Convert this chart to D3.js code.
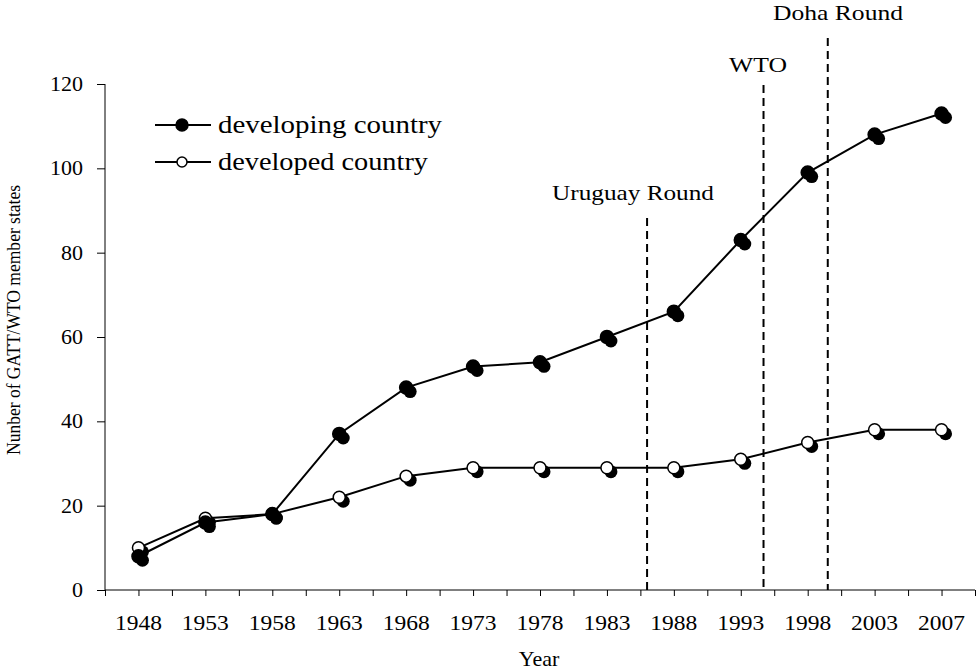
<!DOCTYPE html>
<html>
<head>
<meta charset="utf-8">
<script src="https://cdn.jsdelivr.net/npm/d3@7/dist/d3.min.js"></script>
<style>
  html, body { margin: 0; padding: 0; background: #fff; }
  text { font-family: "Liberation Serif", "Times New Roman", serif; fill: #000; }
</style>
</head>
<body>
<svg id="chart" width="977" height="670"></svg>
<script>
// ---- data ----
const years = ["1948","1953","1958","1963","1968","1973","1978","1983","1988","1993","1998","2003","2007"];
const developing = [8, 16, 18, 37, 48, 53, 54, 60, 66, 83, 99, 108, 113];
const developed  = [10, 17, 18, 22, 27, 29, 29, 29, 29, 31, 35, 38, 38];
const yTicks = [0, 20, 40, 60, 80, 100, 120];
const eventNames = ["Uruguay Round", "WTO", "Doha Round"];
const eventYears = [1986, 1994.7, 1999.5];

(function () {
// ---- layout ----
const svg = d3.select("#chart");
const mLeft = 105, mRight = 975, mTop = 84, mBottom = 590;

const xi = d3.scaleLinear().domain([0, years.length]).range([mLeft, mRight]);
const xc = i => xi(i + 0.5);
const y = d3.scaleLinear().domain([0, 120]).range([mBottom, mTop]);

// fractional category position for an event year
const yearNums = years.map(Number);
function eventX(yr) {
  for (let i = 0; i < yearNums.length - 1; i++) {
    if (yr >= yearNums[i] && yr <= yearNums[i + 1]) {
      const f = (yr - yearNums[i]) / (yearNums[i + 1] - yearNums[i]);
      return xi(i + 0.5 + f);
    }
  }
  return xi(yearNums.length - 0.5);
}

// ---- axes ----
const yAxis = d3.axisLeft(y).tickValues(yTicks).tickSize(8).tickFormat("");
const gy = svg.append("g").attr("transform", `translate(${mLeft},0)`).call(yAxis);
gy.select(".domain").attr("stroke", "#000").attr("d", `M0,${mTop}V${mBottom}`);
gy.selectAll(".tick line").attr("stroke", "#000");

const xAxis = d3.axisBottom(xi).tickValues(d3.range(0, years.length + 0.01, 0.5)).tickSize(6).tickFormat("");
const gx = svg.append("g").attr("transform", `translate(0,${mBottom})`).call(xAxis);
gx.select(".domain").attr("stroke", "#000").attr("d", `M${mLeft},0H${mRight}`);
gx.selectAll(".tick line").attr("stroke", "#000");

// y tick labels
svg.append("g").selectAll("text").data(yTicks).join("text")
  .attr("x", 83).attr("y", d => y(d) + 7)
  .attr("text-anchor", "end").attr("font-size", 22)
  .text(d => d);

// x tick labels
svg.append("g").selectAll("text").data(years).join("text")
  .attr("x", (d, i) => xc(i) - 23.5).attr("y", 630)
  .attr("font-size", 21)
  .attr("textLength", 47).attr("lengthAdjust", "spacingAndGlyphs")
  .text(d => d);

// axis titles
svg.append("text").attr("x", 539).attr("y", 666).attr("text-anchor", "middle")
  .attr("font-size", 22).text("Year");

svg.append("text")
  .attr("transform", `translate(20,${(185 + 455) / 2}) rotate(-90)`)
  .attr("x", -135).attr("y", 0)
  .attr("font-size", 19)
  .attr("textLength", 270).attr("lengthAdjust", "spacingAndGlyphs")
  .text("Nunber of GATT/WTO member states");

// ---- event lines ----
const eventTops = [218, 85, 38];
const labelPos = [[633, 200, 162], [758, 72, 58], [838, 20, 130]];
eventYears.forEach((yr, k) => {
  const ex = eventX(yr);
  svg.append("line").attr("x1", ex).attr("x2", ex)
    .attr("y1", eventTops[k]).attr("y2", mBottom)
    .attr("stroke", "#000").attr("stroke-width", 2).attr("stroke-dasharray", "8,5");
  const [lx, ly, lw] = labelPos[k];
  svg.append("text").attr("x", lx - lw / 2).attr("y", ly)
    .attr("font-size", 22)
    .attr("textLength", lw).attr("lengthAdjust", "spacingAndGlyphs")
    .text(eventNames[k]);
});

// ---- series ----
const line = d3.line().x((d, i) => xc(i)).y(d => y(d));
function drawSeries(vals) {
  svg.append("path").datum(vals).attr("d", line)
    .attr("fill", "none").attr("stroke", "#000").attr("stroke-width", 2);
}
function drawMarkers(vals, fill) {
  const g = svg.append("g");
  g.selectAll("circle.sh").data(vals).join("circle").attr("class", "sh")
    .attr("cx", (d, i) => xc(i) + 4).attr("cy", d => y(d) + 4).attr("r", 6.5)
    .attr("fill", "#000");
  g.selectAll("circle.fr").data(vals).join("circle").attr("class", "fr")
    .attr("cx", (d, i) => xc(i)).attr("cy", d => y(d)).attr("r", fill === "#000" ? 6.5 : 6)
    .attr("fill", fill).attr("stroke", "#000").attr("stroke-width", 1.5);
}
drawSeries(developed);
drawSeries(developing);
drawMarkers(developed, "#fff");
drawMarkers(developing, "#000");

// ---- legend ----
const legend = [["developing country", "#000", 125], ["developed country", "#fff", 162]];
legend.forEach(([name, fill, ly]) => {
  svg.append("line").attr("x1", 155).attr("x2", 211).attr("y1", ly).attr("y2", ly)
    .attr("stroke", "#000").attr("stroke-width", 2);
  svg.append("circle").attr("cx", 182).attr("cy", ly).attr("r", fill === "#000" ? 6 : 5)
    .attr("fill", fill).attr("stroke", "#000").attr("stroke-width", 1.5);
  svg.append("text").attr("x", 218).attr("y", ly + 8).attr("font-size", 25)
    .attr("textLength", name === "developing country" ? 224 : 210)
    .attr("lengthAdjust", "spacingAndGlyphs")
    .text(name);
});
})();
</script>
</body>
</html>
